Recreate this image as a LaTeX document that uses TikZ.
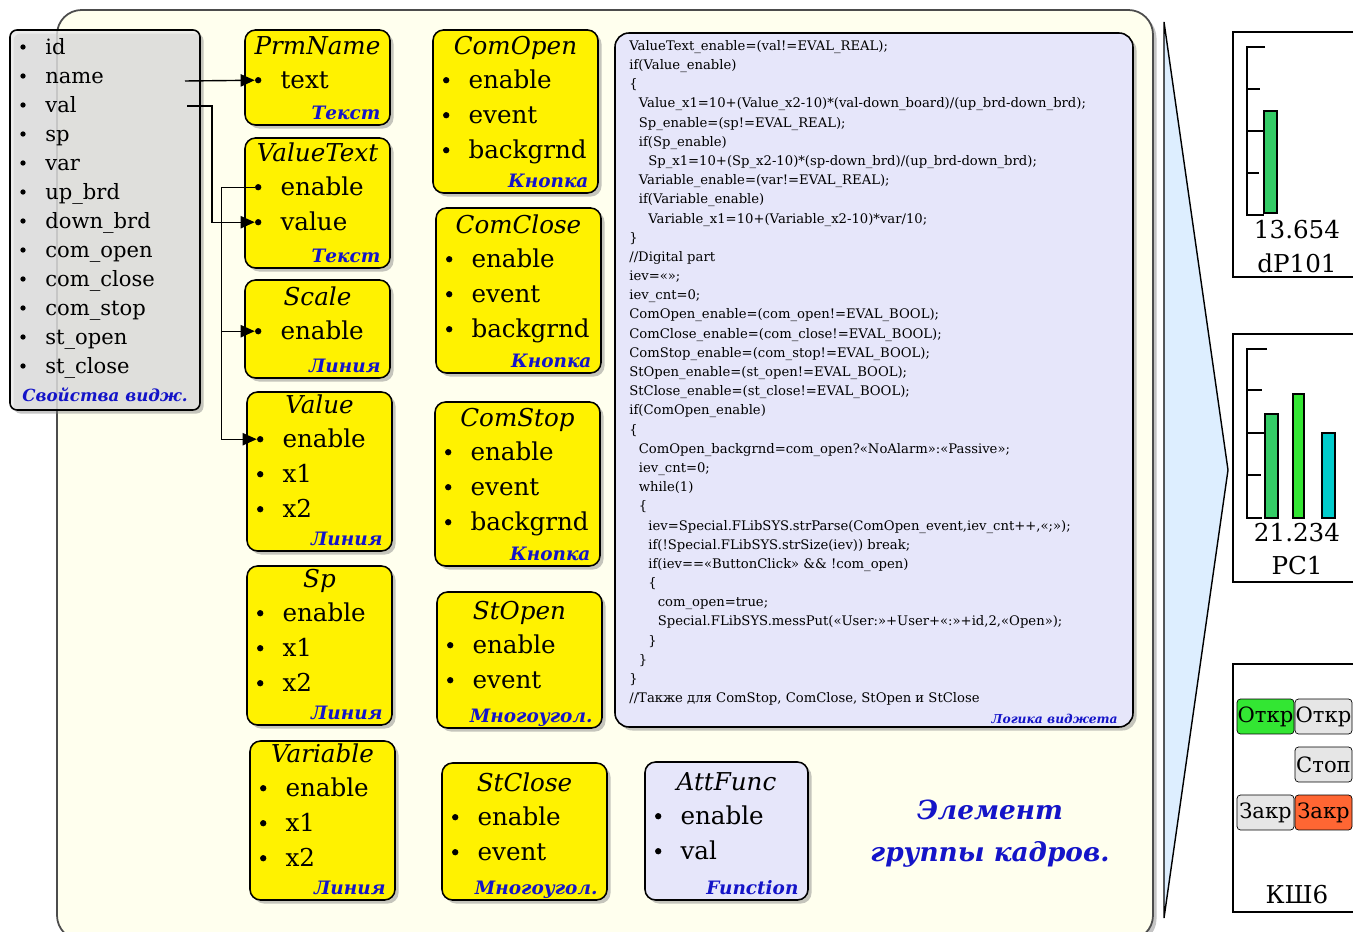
\documentclass[tikz,border=0pt]{standalone}
\usepackage{fontspec}
\setmainfont{DejaVu Serif}
\usetikzlibrary{shadows,fit,arrows.meta}

\definecolor{cream}{RGB}{255,255,238}
\definecolor{lav}{RGB}{230,230,250}
\definecolor{lstgray}{RGB}{232,232,232}
\definecolor{lblue}{RGB}{20,20,200}
\definecolor{skyfill}{RGB}{221,238,255}
\definecolor{bargreen}{RGB}{51,204,102}
\definecolor{barlime}{RGB}{51,230,51}
\definecolor{barcyan}{RGB}{0,204,204}
\definecolor{btngreen}{RGB}{51,230,51}
\definecolor{btnred}{RGB}{255,102,51}
\definecolor{btngray}{RGB}{230,230,230}

\tikzset{
  wbox/.style={draw, line width=0.9pt, rounded corners=6pt, inner sep=0pt, fill=yellow,
    drop shadow={shadow xshift=2pt, shadow yshift=-2pt, opacity=0.45}},
  ttl/.style={inner sep=0pt, text height=11pt, text depth=1pt, font=\fontsize{14}{16}\selectfont\itshape},
  fld/.style={anchor=west, inner sep=0pt, text height=11pt, text depth=1pt, font=\fontsize{14}{16}\selectfont},
  lst/.style={anchor=west, inner sep=0pt, text height=9.5pt, text depth=0.5pt, font=\fontsize{12}{14}\selectfont},
  fdot/.style={circle, fill=black, inner sep=0pt, minimum size=3.6pt},
  kind/.style={anchor=east, inner sep=0pt, text height=8pt, text depth=1pt, text=lblue,
    font=\fontsize{10.5}{12}\selectfont\bfseries\itshape},
  code/.style={anchor=north west, inner sep=0pt, align=left, font=\fontsize{7.5}{10.92}\selectfont},
  link/.style={line width=0.8pt, -{Triangle[length=8pt,width=7pt]}},
  panel/.style={draw, line width=0.8pt, fill=white, inner sep=0pt},
  plbl/.style={inner sep=0pt, font=\fontsize{14}{16}\selectfont},
  btn/.style={draw, rounded corners=2pt, minimum width=1.14cm, minimum height=0.7cm,
    inner sep=0pt, font=\fontsize{12}{14}\selectfont},
}

% widget box: name, fill, corner, corner, first field offset, title, fields, kind
\newcommand{\widget}[8]{%
  \node[wbox, fill=#2, fit={#3 #4}] (#1) {};
  \foreach \fname [count=\i] in {#7}
    \path (#1.north west) ++(14,{#5+35*(\i-1)}) node[fdot] (#1-\i) {} ++(22,0) node[fld] (#1-f\i) {\fname};
  \path (#1.north) ++(0,{#5-34}) node[ttl] (#1-t) {#6};
  \path (#1.south east) ++(-10,-12) node[kind] (#1-k) {#8};
}
\newcommand{\cind}{\hspace*{5.4pt}}

\begin{document}
\begin{tikzpicture}[x=0.02cm, y=-0.02cm]
  \useasboundingbox (0,0) rectangle (1353,932);
  \fill[white] (0,0) rectangle (1353,932);

  % frame group
  \draw[fill=cream, draw=black!70, line width=1pt, rounded corners=14pt,
    drop shadow={shadow xshift=2pt, shadow yshift=-2pt, opacity=0.45}] (57,10) rectangle (1153,940);
  \draw[line width=0.8pt, fill=skyfill] (1164,22) -- (1228,470) -- (1164,918) -- cycle;

  % widget properties
  \node[wbox, fill=lstgray, fill opacity=0.75, rounded corners=4pt, fit={(10,30) (200,410)}] (props) {};
  \foreach \p [count=\i] in {id,name,val,sp,var,up\_brd,down\_brd,com\_open,com\_close,com\_stop,st\_open,st\_close}
    \path (23,{18+29*\i}) node[fdot, minimum size=3pt] (lst-\i) {} ++(22,0) node[lst] (lstt-\i) {\p};
  \node[kind, anchor=west, font=\fontsize{9.5}{11}\selectfont\bfseries\itshape] (props-k) at (22,395) {Свойства видж.};

  \widget{prmname}{yellow}{(245,30)}{(390,125)}{51}{PrmName}{text}{Текст}
  \widget{valuetext}{yellow}{(245,138)}{(390,268)}{50}{ValueText}{enable,value}{Текст}
  \widget{scale}{yellow}{(245,280)}{(390,378)}{52}{Scale}{enable}{Линия}
  \widget{value}{yellow}{(247,392)}{(392,551)}{48}{Value}{enable,x1,x2}{Линия}
  \widget{sp}{yellow}{(247,566)}{(392,725)}{48}{Sp}{enable,x1,x2}{Линия}
  \widget{variable}{yellow}{(250,741)}{(395,900)}{48}{Variable}{enable,x1,x2}{Линия}
  \widget{comopen}{yellow}{(433,30)}{(598,193)}{51}{ComOpen}{enable,event,backgrnd}{Кнопка}
  \widget{comclose}{yellow}{(436,208)}{(601,373)}{52}{ComClose}{enable,event,backgrnd}{Кнопка}
  \widget{comstop}{yellow}{(435,402)}{(600,566)}{51}{ComStop}{enable,event,backgrnd}{Кнопка}
  \widget{stopen}{yellow}{(437,592)}{(602,728)}{54}{StOpen}{enable,event}{Многоугол.}
  \widget{stclose}{yellow}{(442,763)}{(607,900)}{55}{StClose}{enable,event}{Многоугол.}
  \widget{attfunc}{lav}{(645,762)}{(808,900)}{55}{AttFunc}{enable,val}{Function}

  % widget logic
  \node[wbox, fill=lav, rounded corners=8pt, fit={(615,33) (1133,727)}] (logic) {};
  \node[code] (logic-c) at (629,40) {%
    ValueText\_enable=(val!=EVAL\_REAL);\\
    if(Value\_enable)\\
    \{\\
    \cind Value\_x1=10+(Value\_x2-10)*(val-down\_board)/(up\_brd-down\_brd);\\
    \cind Sp\_enable=(sp!=EVAL\_REAL);\\
    \cind if(Sp\_enable)\\
    \cind\cind Sp\_x1=10+(Sp\_x2-10)*(sp-down\_brd)/(up\_brd-down\_brd);\\
    \cind Variable\_enable=(var!=EVAL\_REAL);\\
    \cind if(Variable\_enable)\\
    \cind\cind Variable\_x1=10+(Variable\_x2-10)*var/10;\\
    \}\\
    //Digital part\\
    iev=«»;\\
    iev\_cnt=0;\\
    ComOpen\_enable=(com\_open!=EVAL\_BOOL);\\
    ComClose\_enable=(com\_close!=EVAL\_BOOL);\\
    ComStop\_enable=(com\_stop!=EVAL\_BOOL);\\
    StOpen\_enable=(st\_open!=EVAL\_BOOL);\\
    StClose\_enable=(st\_close!=EVAL\_BOOL);\\
    if(ComOpen\_enable)\\
    \{\\
    \cind ComOpen\_backgrnd=com\_open?«NoAlarm»:«Passive»;\\
    \cind iev\_cnt=0;\\
    \cind while(1)\\
    \cind \{\\
    \cind\cind iev=Special.FLibSYS.strParse(ComOpen\_event,iev\_cnt++,«;»);\\
    \cind\cind if(!Special.FLibSYS.strSize(iev)) break;\\
    \cind\cind if(iev==«ButtonClick» \&\& !com\_open)\\
    \cind\cind \{\\
    \cind\cind\cind com\_open=true;\\
    \cind\cind\cind Special.FLibSYS.messPut(«User:»+User+«:»+id,2,«Open»);\\
    \cind\cind \}\\
    \cind \}\\
    \}\\
    //Также для ComStop, ComClose, StOpen и StClose};
  \node[kind, font=\fontsize{7}{8}\selectfont\bfseries\itshape] (logic-k) at (1118,717) {Логика виджета};

  \node[text=lblue, align=center, font=\fontsize{15}{24}\selectfont\bfseries\itshape] (caption) at (990,834) {Элемент\\группы кадров.};

  % links
  \coordinate (nameout) at (185,81);
  \coordinate (valout) at (187,106);
  \draw[link] (nameout) -- (prmname-1);
  \draw[link] (valout) -- ++(25,0) |- (valuetext-2);
  \draw[link] (valuetext-1) -- ++(-37,0) coordinate (enbus) |- (value-1);
  \draw[link] (enbus |- scale-1) -- (scale-1);

  % frames on the right
  \node[panel, fit={(1233,32) (1370,277)}] (pnl-dp) {};
  \draw[line width=0.8pt] (1265,47) -- (1247,47) -- (1247,215) -- (1264,215);
  \draw[line width=0.8pt] (1247,89) -- (1260,89) (1247,131) -- (1265,131) (1247,173) -- (1259,173);
  \draw[fill=bargreen, line width=0.8pt] (1264,111) rectangle (1277,213);
  \node[plbl] (dp-val) at (1297,230) {13.654};
  \node[plbl] (dp-name) at (1297,263) {dP101};

  \node[panel, fit={(1233,334) (1370,582)}] (pnl-pc) {};
  \draw[line width=0.8pt] (1267,349) -- (1247,349) -- (1247,518) -- (1262,518);
  \draw[line width=0.8pt] (1247,390) -- (1262,390) (1247,433) -- (1267,433) (1247,475) -- (1261,475);
  \draw[fill=bargreen, line width=0.8pt] (1265,414) rectangle (1278,518);
  \draw[fill=barlime, line width=0.8pt] (1293,394) rectangle (1304,518);
  \draw[fill=barcyan, line width=0.8pt] (1322,433) rectangle (1335,518);
  \node[plbl] (pc-val) at (1297,533) {21.234};
  \node[plbl] (pc-name) at (1297,566) {PC1};

  \node[panel, fit={(1233,664) (1370,912)}] (pnl-ksh) {};
  \node[btn, fill=btngreen] (b-open1) at (1265.5,716.5) {Откр};
  \node[btn, fill=btngray] (b-open2) at (1323.5,716.5) {Откр};
  \node[btn, fill=btngray] (b-stop) at (1323.5,764.5) {Стоп};
  \node[btn, fill=btngray] (b-close1) at (1265.5,812.5) {Закр};
  \node[btn, fill=btnred] (b-close2) at (1323.5,812.5) {Закр};
  \node[plbl] (ksh-name) at (1297,895) {КШ6};
\end{tikzpicture}
\end{document}
